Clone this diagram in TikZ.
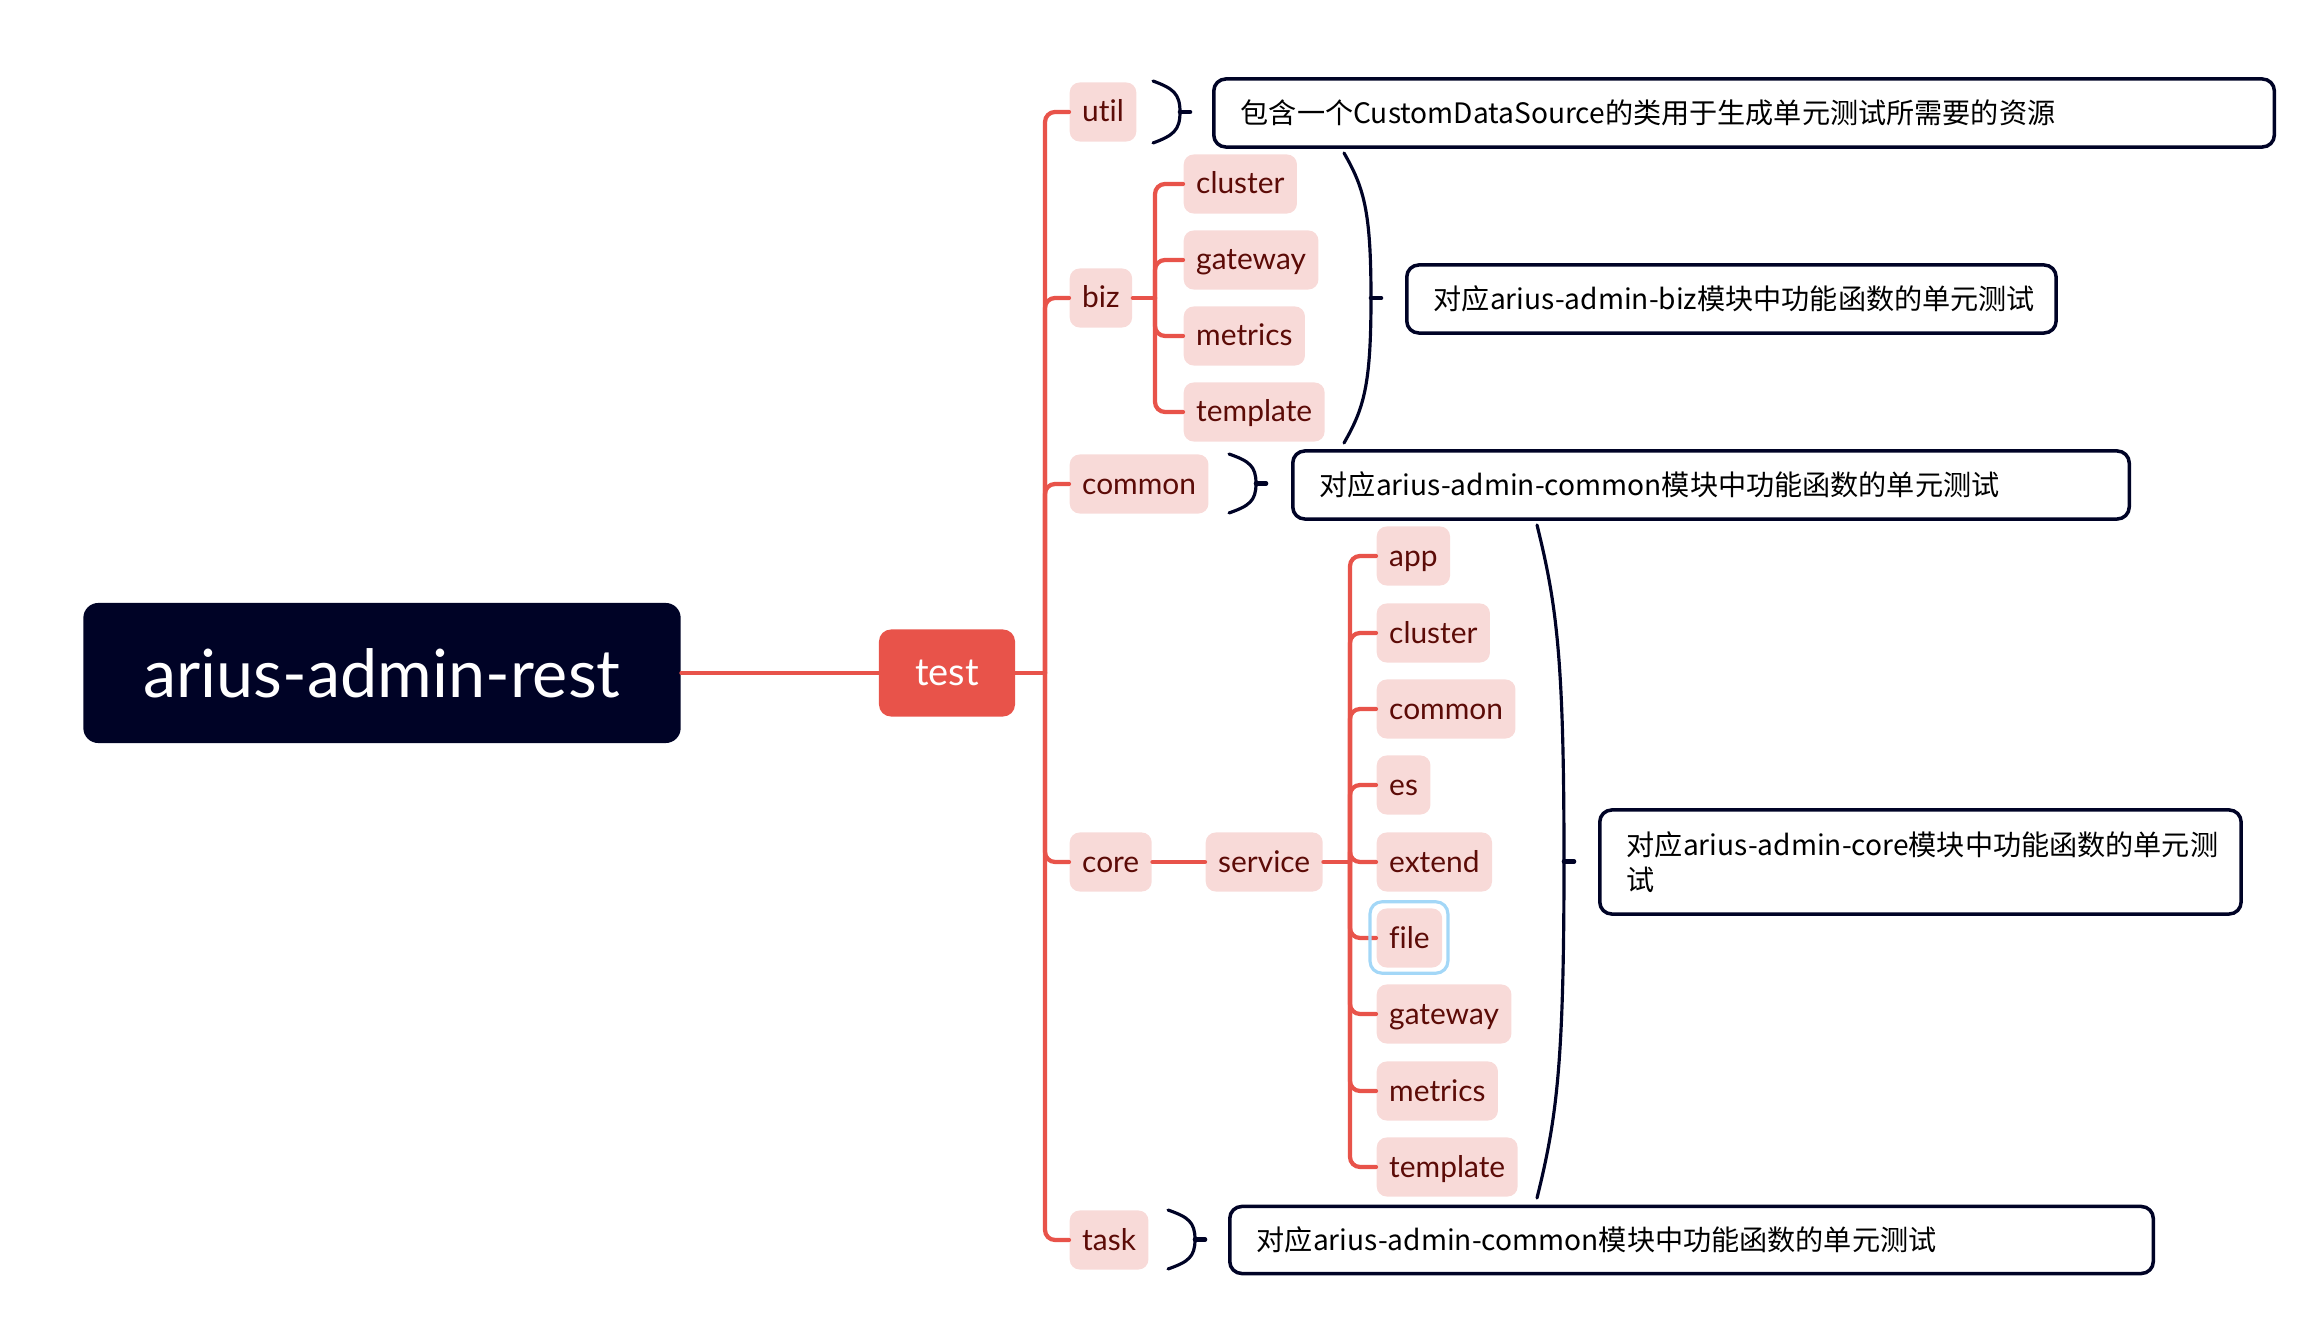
\documentclass[tikz,border=0pt]{standalone}
\usepackage{fontspec}
\setmainfont{Lato}[Ligatures=NoCommon]
\newfontfamily\cjk{Noto Sans CJK SC}
\usetikzlibrary{calc}
\definecolor{navy}{HTML}{000326}
\definecolor{redline}{HTML}{E8534A}
\definecolor{leafpink}{HTML}{F8DAD8}
\definecolor{leaftext}{HTML}{5C0B07}
\definecolor{selblue}{HTML}{A3D7F7}
\newcommand\leaffont{\fontsize{8.5}{10}\selectfont}
\newcommand\notefont{\cjk\fontsize{8}{10}\selectfont}

\begin{document}
\begin{tikzpicture}[x=0.01cm,y=-0.01cm,line join=round,line cap=round,
    link/.style={draw=redline,line width=1.2pt},
    leaf/.style={fill=leafpink,text=leaftext,rounded corners=0.1cm,anchor=west,
        minimum height=0.59cm,inner xsep=0.125cm,inner ysep=0pt,
        text height=0.23cm,text depth=0.03cm,font=\leaffont},
    note/.style={draw=navy,line width=1pt,rounded corners=0.12cm,anchor=west,
        align=left,inner xsep=0.27cm,font=\notefont},
    brace/.style={draw=navy,line width=0.9pt}]
    \useasboundingbox (0,0) rectangle (2311,1319);
    \def\trunk{1045} \def\bizx{1155} \def\svcx{1350}
    \def\lx{1069} \def\mx{1183} \def\sx{1376}
    % root and test
    \node[fill=navy,text=white,rounded corners=0.15cm,minimum width=5.97cm,
        minimum height=1.4cm,font=\fontsize{18.9}{21}\selectfont] (root) at (382,673) {arius-admin-rest};
    \node[fill=redline,text=white,rounded corners=0.12cm,minimum width=1.36cm,
        minimum height=0.87cm,font=\fontsize{10.8}{12}\selectfont] (test) at (947,673) {test};
    \draw[link] (root) -- (test);
    % first level
    \foreach \name/\y in {util/112,biz/298,common/484,core/862,task/1240}
        \node[leaf] (\name) at (\lx,\y) {\name};
    \coordinate (fork) at (\trunk,673);
    \draw[link] (test) -- (fork);
    \foreach \name in {util,biz,common,core,task}
        \draw[link,rounded corners=0.1cm] (fork) |- (\name.west);
    % biz
    \foreach \name/\txt/\y in {bizcluster/cluster/184,bizgateway/gateway/260,
        bizmetrics/metrics/336,biztemplate/template/412}
        \node[leaf] (\name) at (\mx,\y) {\txt};
    \coordinate (bizfork) at (\bizx,298);
    \draw[link] (biz) -- (bizfork);
    \foreach \name in {bizcluster,bizgateway,bizmetrics,biztemplate}
        \draw[link,rounded corners=0.1cm] (bizfork) |- (\name.west);
    % core
    \node[leaf] (service) at (1205,862) {service};
    \draw[link] (core) -- (service);
    \foreach \name/\txt/\y in {app/app/556,svccluster/cluster/633,svccommon/common/709,
        es/es/785,extend/extend/862,file/file/938,svcgateway/gateway/1014,
        svcmetrics/metrics/1091,svctemplate/template/1167}
        \node[leaf] (\name) at (\sx,\y) {\txt};
    \coordinate (svcfork) at (\svcx,862);
    \draw[link] (service) -- (svcfork);
    \foreach \name in {app,svccluster,svccommon,es,extend,file,svcgateway,svcmetrics,svctemplate}
        \draw[link,rounded corners=0.1cm] (svcfork) |- (\name.west);
    \draw[selblue,line width=0.9pt,rounded corners=0.12cm]
        ($(file.north west)+(-6,-6)$) rectangle ($(file.south east)+(5,5)$);
    % brackets
    \foreach \xa/\ya/\yb in {1153/81/143,1344/153/443,1229/454/513,1537/525/1198,1168/1210/1269}{
        \pgfmathsetmacro\ym{(\ya+\yb)/2}
        \pgfmathsetmacro\h{\yb-\ya}
        \draw[brace] (\xa,\ya) .. controls ({\xa+20},{\ya+0.12*\h}) and ({\xa+27},{\ym-0.3*\h}) .. ({\xa+27},\ym)
            .. controls ({\xa+27},{\ym+0.3*\h}) and ({\xa+20},{\yb-0.12*\h}) .. (\xa,\yb);
        \draw[brace,line width=1.3pt] ({\xa+27},\ym) -- ({\xa+37},\ym);
    }
    % notes
    \node[note,text width=10.06cm,minimum height=0.68cm] (utilnote) at (1212,113)
        {\mbox{包含一个CustomDataSource的类用于生成单元测试所需要的资源}};
    \node[note,text width=5.95cm,minimum height=0.68cm] (biznote) at (1405,299)
        {\mbox{对应arius-admin-biz模块中功能函数的单元测试}};
    \node[note,text width=7.82cm,minimum height=0.68cm] (commonnote) at (1291,485)
        {\mbox{对应arius-admin-common模块中功能函数的单元测试}};
    \node[note,text width=5.87cm,minimum height=1.04cm] (corenote) at (1598,862)
        {\mbox{对应arius-admin-core模块中功能函数的单元测}\\试};
    \node[note,text width=8.69cm,minimum height=0.67cm] (tasknote) at (1228,1240)
        {\mbox{对应arius-admin-common模块中功能函数的单元测试}};
\end{tikzpicture}
\end{document}
